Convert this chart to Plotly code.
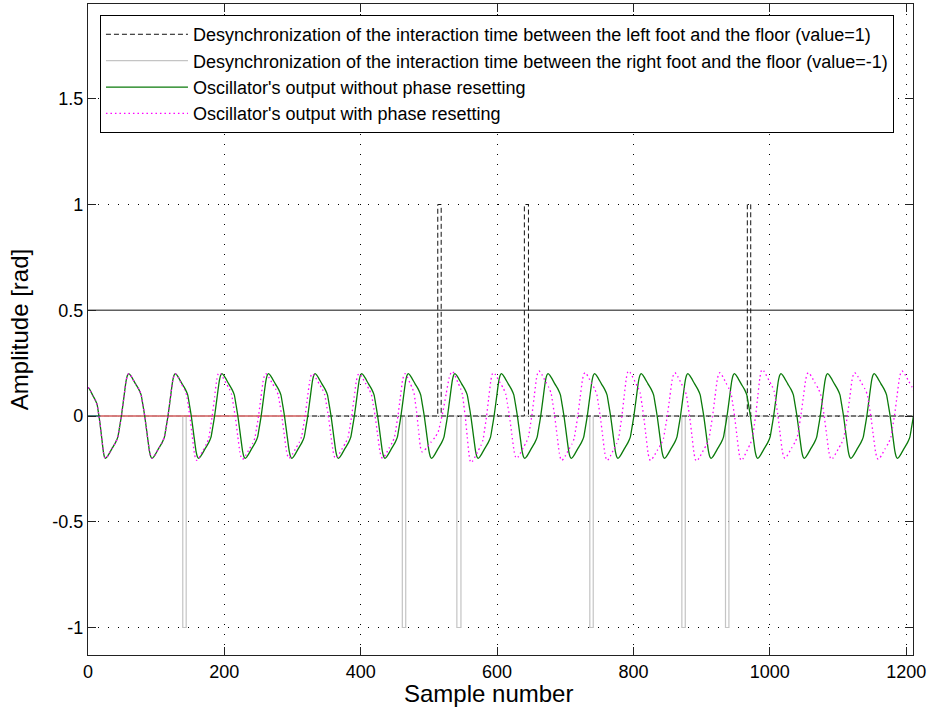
import plotly.graph_objects as go

# ---------------- data ----------------
x_max = 1210
threshold = 0.5

# desynchronisation pulses (sample indices where the pulse starts / ends)
left_pulse_start = [513, 640, 967]
left_pulse_end = [518, 646, 972]
left_pulse_value = 1
right_pulse_start = [139, 461, 541, 736, 871, 935]
right_pulse_end = [144, 466, 547, 741, 876, 940]
right_pulse_value = -1

# short red / teal segments lying on the zero line at the start
red_zero_end = 322
teal_zero_end = 18

# one half-cycle of the oscillator (fraction of half-period, normalised value)
shape_f = [0, 0.07, 0.146, 0.29, 0.43, 0.53, 0.6, 0.684, 0.79, 0.886, 0.95, 1]
shape_n = [1, 0.965, 0.9, 0.76, 0.63, 0.5, 0.28, 0, -0.44, -0.83, -0.97, -1]

# successive extrema (sample, amplitude) of the oscillator without phase resetting
green_ext_x = [0, 25.6, 59.8, 94.0, 128.1, 162.3, 196.5, 230.6, 264.8, 299.0,
               333.1, 367.3, 401.5, 435.6, 469.8, 504.0, 538.1, 572.3, 606.4,
               640.6, 674.8, 708.9, 743.1, 777.3, 811.4, 845.6, 879.8, 913.9,
               948.1, 982.3, 1016.4, 1050.6, 1084.8, 1118.9, 1153.1, 1187.3,
               1221.4]
green_ext_y = [0.135, -0.2, 0.2, -0.2, 0.2, -0.2, 0.2, -0.2, 0.2, -0.2,
               0.2, -0.2, 0.2, -0.2, 0.2, -0.2, 0.2, -0.2, 0.2,
               -0.2, 0.2, -0.2, 0.2, -0.2, 0.2, -0.2, 0.2, -0.2,
               0.2, -0.2, 0.2, -0.2, 0.2, -0.2, 0.2, -0.2,
               0.2]

# successive extrema of the oscillator with phase resetting
mag_ext_x = [0, 25.6, 59.8, 94.0, 128.1, 159.5, 192.5, 226.6, 260.8, 295.0,
             329.1, 363.3, 397.5, 432.0, 465.0, 490.0, 534.6, 562.0, 594.6,
             628.8, 661.5, 695.0, 729.0, 761.7, 793.0, 825.0, 860.8, 892.5,
             926.7, 958.4, 989.0, 1022.0, 1056.5, 1090.5, 1124.5, 1159.0,
             1194.0, 1228.0]
mag_ext_y = [0.135, -0.2, 0.2, -0.2, 0.2, -0.21, 0.205, -0.205, 0.2, -0.2,
             0.2, -0.2, 0.2, -0.2, 0.2, -0.17, 0.21, -0.22, 0.205,
             -0.2, 0.213, -0.21, 0.205, -0.21, 0.213, -0.21, 0.205, -0.213,
             0.205, -0.21, 0.22, -0.2, 0.205, -0.205, 0.205, -0.205,
             0.213, -0.2]

legend_names = [
    "Desynchronization of the interaction time between the left foot and the floor (value=1)",
    "Desynchronization of the interaction time between the right foot and the floor (value=-1)",
    "Oscillator's output without phase resetting",
    "Oscillator's output with phase resetting",
]

x_ticks = [0, 200, 400, 600, 800, 1000, 1200]
y_ticks = [-1, -0.5, 0, 0.5, 1, 1.5]
y_tick_text = ["-1", "-0.5", "0", "0.5", "1", "1.5"]
x_title = "Sample number"
y_title = "Amplitude [rad]"


# ---------------- helpers ----------------
def pulse_steps(starts, ends, value):
    xs, ys = [0], [0]
    for s, e in zip(starts, ends):
        xs += [s, e]
        ys += [value, 0]
    xs.append(x_max)
    ys.append(0)
    return xs, ys


def oscillator(ext_x, ext_y):
    xs, ys = [], []
    for i in range(len(ext_x) - 1):
        x0, x1 = ext_x[i], ext_x[i + 1]
        y0, y1 = ext_y[i], ext_y[i + 1]
        mid = (y0 + y1) / 2
        half = (y0 - y1) / 2
        for k, (f, n) in enumerate(zip(shape_f, shape_n)):
            if i > 0 and k == 0:
                continue
            xs.append(x0 + f * (x1 - x0))
            ys.append(mid + half * n)
    return xs, ys


lx, ly = pulse_steps(left_pulse_start, left_pulse_end, left_pulse_value)
rx, ry = pulse_steps(right_pulse_start, right_pulse_end, right_pulse_value)
gx, gy = oscillator(green_ext_x, green_ext_y)
mx, my = oscillator(mag_ext_x, mag_ext_y)

fig = go.Figure()

fig.add_trace(go.Scatter(x=[0, x_max], y=[threshold, threshold], mode="lines",
                         line=dict(color="#606060", width=1.6),
                         showlegend=False, hoverinfo="skip"))
fig.add_trace(go.Scatter(x=rx, y=ry, mode="lines", line_shape="hv",
                         line=dict(color="#c4c4c4", width=1.2),
                         name=legend_names[1], legendrank=2))
fig.add_trace(go.Scatter(x=lx, y=ly, mode="lines", line_shape="hv",
                         line=dict(color="#111111", width=1, dash="5px,3px"),
                         name=legend_names[0], legendrank=1))
fig.add_trace(go.Scatter(x=[0, red_zero_end], y=[0, 0], mode="lines",
                         line=dict(color="#dc7c7c", width=1.8), opacity=0.9,
                         showlegend=False, hoverinfo="skip"))
fig.add_trace(go.Scatter(x=[0, teal_zero_end], y=[0, 0], mode="lines",
                         line=dict(color="#3f7f80", width=1.8),
                         showlegend=False, hoverinfo="skip"))
fig.add_trace(go.Scatter(x=gx, y=gy, mode="lines", line_shape="spline",
                         line=dict(color="#0a7a0a", width=1.3, smoothing=0.5),
                         name=legend_names[2], legendrank=3))
fig.add_trace(go.Scatter(x=mx, y=my, mode="lines", line_shape="spline",
                         line=dict(color="#ff00ff", width=1.3, dash="1.5px,3px",
                                   smoothing=0.5),
                         name=legend_names[3], legendrank=4))

axis_common = dict(
    showline=True, linecolor="#222222", linewidth=1.3, mirror="allticks",
    ticks="inside", ticklen=8, tickcolor="#222222", tickwidth=1,
    showgrid=True, gridcolor="#000000", gridwidth=1, griddash="1px,9px",
    zeroline=False, tickfont=dict(size=18, color="black"),
)

fig.update_xaxes(range=[0, x_max], tickvals=x_ticks, **axis_common)
fig.update_yaxes(range=[-1.13, 1.948], tickvals=y_ticks, ticktext=y_tick_text,
                 title=dict(text=y_title, font=dict(size=24, color="black"),
                            standoff=16),
                 **axis_common)

# x-axis label placed just under the tick labels
fig.add_annotation(text=x_title, xref="paper", yref="paper",
                   x=0.486, y=-0.0599, xanchor="center", yanchor="middle",
                   showarrow=False, font=dict(size=24, color="black"))

fig.update_layout(
    width=936, height=716,
    margin=dict(l=88, r=23, t=4, b=61),
    paper_bgcolor="white", plot_bgcolor="white",
    font=dict(family="Liberation Sans, Arial, sans-serif", size=18, color="black"),
    legend=dict(x=0.0145, y=0.983, xanchor="left", yanchor="top",
                bgcolor="white", bordercolor="black", borderwidth=1,
                font=dict(size=18, color="black"), itemwidth=82,
                tracegroupgap=0),
    showlegend=True,
)

fig.write_html("out.html", config={"displayModeBar": False},
               post_script="document.body.style.margin='0px';")
